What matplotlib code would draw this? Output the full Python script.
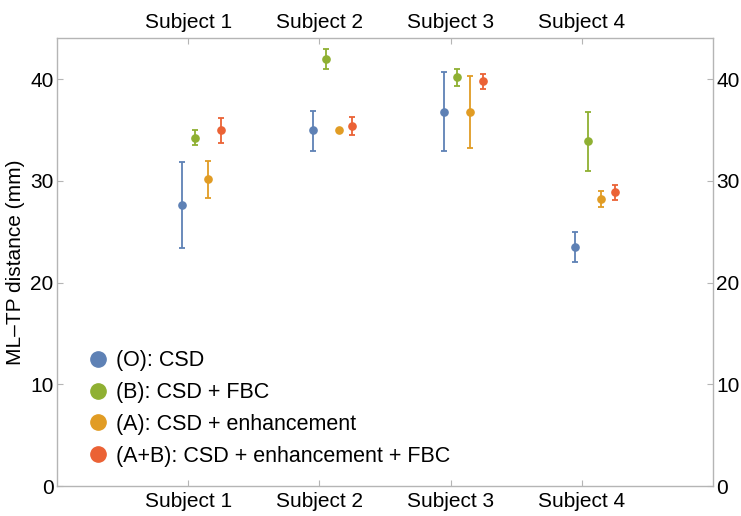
import matplotlib
matplotlib.use("Agg")
import matplotlib.pyplot as plt
from matplotlib.lines import Line2D
import numpy as np

plt.rcParams['font.family'] = ['Liberation Sans', 'DejaVu Sans']

subjects = ["Subject 1", "Subject 2", "Subject 3", "Subject 4"]
series_names = ["(O): CSD", "(B): CSD + FBC", "(A): CSD + enhancement",
                "(A+B): CSD + enhancement + FBC"]
colores = ["#5E81B5", "#8FB032", "#E19C24", "#EB6235"]

# valor medio y extremos de la barra de error (mm)
medias = [
    [27.6, 35.0, 36.8, 23.5],   # O
    [34.2, 42.0, 40.2, 33.9],   # B
    [30.2, 35.0, 36.8, 28.2],   # A
    [35.0, 35.4, 39.8, 28.9],   # A+B
]
sup = [
    [31.9, 36.9, 40.7, 25.0],
    [35.0, 43.0, 41.0, 36.8],
    [32.0, 35.0, 40.3, 29.0],
    [36.2, 36.3, 40.5, 29.6],
]
inf = [
    [23.4, 32.9, 32.9, 22.0],
    [33.5, 41.0, 39.3, 31.0],
    [28.3, 35.0, 33.2, 27.4],
    [33.7, 34.5, 39.0, 28.1],
]
desplaz = [-0.05, 0.05, 0.15, 0.25]

fig = plt.figure(figsize=(7.41, 5.16), dpi=100)
ax = fig.add_axes([57/741, 30/516, 656/741, 448/516])

x = np.arange(1, len(subjects) + 1)
for i in range(4):
    m = np.array(medias[i])
    err = [m - np.array(inf[i]), np.array(sup[i]) - m]
    ax.errorbar(x + desplaz[i], m, yerr=err, fmt='o', color=colores[i],
                markersize=5.2, elinewidth=1.3, capsize=2.3, capthick=1.3)

ax.set_xlim(0, 5.0)
ax.set_ylim(0, 44.05)
ax.set_xticks(x)
ax.set_xticklabels(subjects)
ax.set_yticks([0, 10, 20, 30, 40])
ax.set_ylabel("ML\u2013TP distance (mm)", fontsize=15, labelpad=4)

for s in ax.spines.values():
    s.set_color("#B5B5B5")
    s.set_linewidth(1.0)
ax.tick_params(direction='in', length=4, color="#B5B5B5", labelsize=15,
               top=True, right=True, labeltop=True, labelright=True, pad=4)
ax.tick_params(axis='y', pad=2.5)

handles = [Line2D([], [], linestyle='none', marker='o', markersize=11,
                  color=c) for c in colores]
ax.legend(handles, series_names, loc='lower left',
          bbox_to_anchor=(0.02, 0.0), frameon=False,
          fontsize=15.5, handlelength=0.8, handletextpad=0.45,
          labelspacing=0.5, borderaxespad=0.5)

fig.savefig("out.png", dpi=100)
